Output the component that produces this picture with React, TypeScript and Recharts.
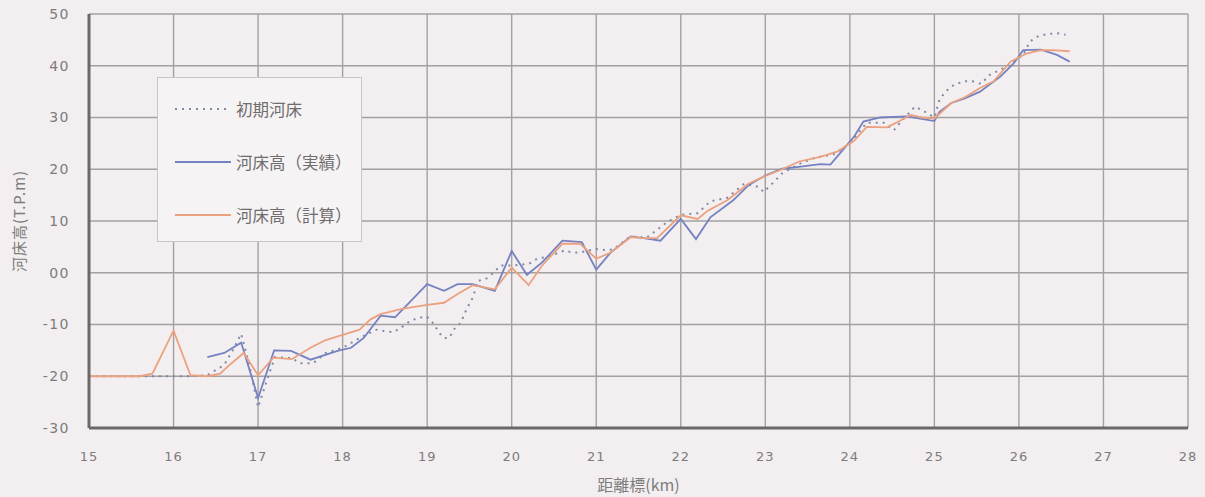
import React from "react";
import {
  LineChart,
  Line,
  XAxis,
  YAxis,
  CartesianGrid,
  Legend,
} from "recharts";

// ---- data ----
const xTicks = [15, 16, 17, 18, 19, 20, 21, 22, 23, 24, 25, 26, 27, 28];
const yTicks = [-30, -20, -10, 0, 10, 20, 30, 40, 50];

const seriesNames = ["初期河床", "河床高（実績）", "河床高（計算）"];

// 初期河床 (initial bed)
const initKm = [
  15.0, 15.4, 15.8, 16.2, 16.4, 16.6, 16.7, 16.8, 16.9, 17.0,
  17.1, 17.2, 17.4, 17.5, 17.65, 17.8, 18.0, 18.2, 18.4, 18.5,
  18.6, 18.7, 18.8, 18.9, 19.0, 19.08, 19.14, 19.2, 19.26, 19.32,
  19.4, 19.44, 19.48, 19.54, 19.6, 19.72, 19.87, 20.0, 20.2, 20.3,
  20.45, 20.62, 20.72, 20.8, 21.0, 21.1, 21.2, 21.4, 21.6, 21.76,
  21.84, 22.0, 22.2, 22.35, 22.55, 22.75, 22.92, 22.98, 23.08, 23.2,
  23.4, 23.6, 23.8, 24.0, 24.2, 24.4, 24.52, 24.62, 24.77, 24.9,
  25.0, 25.06, 25.13, 25.23, 25.35, 25.45, 25.55, 25.66, 25.78, 25.94,
  26.05, 26.13, 26.23, 26.33, 26.45, 26.55,
];
const initVal = [
  -20, -20, -20, -20, -19.8, -17.8, -15, -11.8, -18, -26,
  -21, -16.3, -16.5, -17.5, -17.5, -15.5, -14.5, -12.6, -11, -11.3,
  -11.5, -10.5, -9.3, -8.7, -8.5, -9.9, -11.6, -12.6, -12.6, -10.9,
  -9.6, -8, -6.6, -4.8, -1.6, -1.0, 1.4, 1.4, 1.7, 2.7,
  3.2, 4.3, 3.9, 3.9, 4.6, 4.4, 4.5, 7.0, 6.8, 8.8,
  9.8, 11.2, 11.5, 13.8, 14.5, 17.2, 16.6, 15.6, 17.2, 19.2,
  21.0, 22.3, 22.8, 25.0, 29.0, 29.0, 27.5, 29.5, 32.1, 31.0,
  30.0, 33.4, 35.0, 36.3, 37.0, 37.0, 36.5, 38.3, 39.2, 40.8,
  42.1, 44.7, 45.7, 46.1, 46.3, 46.0,
];

// 河床高（実績） (observed)
const actualKm = [
  16.4, 16.6, 16.8, 17.0, 17.19, 17.39, 17.62, 17.94, 18.1, 18.25,
  18.45, 18.62, 18.8, 19.0, 19.2, 19.36, 19.54, 19.8, 20.0, 20.18,
  20.36, 20.6, 20.83, 21.0, 21.17, 21.41, 21.56, 21.76, 22.0, 22.18,
  22.35, 22.62, 22.8, 23.0, 23.2, 23.42, 23.65, 23.77, 23.9, 24.05,
  24.16, 24.36, 24.67, 24.83, 25.0, 25.06, 25.2, 25.36, 25.54, 25.78,
  25.94, 26.05, 26.26, 26.45, 26.6,
];
const actualVal = [
  -16.3, -15.5, -13.5, -24.2, -15.0, -15.1, -16.8, -15.1, -14.5, -12.6,
  -8.3, -8.6, -5.6, -2.2, -3.5, -2.2, -2.2, -3.5, 4.2, -0.4,
  2.0, 6.2, 5.9, 0.6, 3.9, 7.0, 6.7, 6.2, 10.4, 6.5,
  10.7, 14.0, 16.9, 18.8, 20.1, 20.5, 21.0, 20.9, 23.4, 26.3,
  29.2, 30.0, 30.2, 29.8, 29.3, 31.1, 32.8, 33.7, 35.0, 37.9,
  40.5, 43.0, 43.1, 42.1, 40.8,
];

// 河床高（計算） (computed)
const calcKm = [
  15.0, 15.2, 15.4, 15.6, 15.75, 16.0, 16.2, 16.4, 16.55, 16.65,
  16.83, 17.0, 17.18, 17.4, 17.62, 17.8, 18.0, 18.2, 18.33, 18.45,
  18.7, 19.0, 19.2, 19.36, 19.54, 19.8, 20.0, 20.2, 20.36, 20.6,
  20.81, 21.0, 21.17, 21.41, 21.56, 21.72, 22.0, 22.2, 22.32, 22.55,
  22.8, 23.0, 23.2, 23.4, 23.65, 23.85, 24.05, 24.2, 24.44, 24.55,
  24.72, 24.85, 25.0, 25.2, 25.36, 25.54, 25.7, 25.9, 26.08, 26.26,
  26.4, 26.6,
];
const calcVal = [
  -20, -20, -20, -20, -19.5, -11.2, -19.8, -20, -19.5, -18,
  -15.5, -19.8, -16.4, -16.7, -14.5, -13, -12, -11, -9, -8,
  -7, -6.2, -5.8, -4.1, -2.4, -3.2, 1.0, -2.4, 1.4, 5.6,
  5.6, 2.7, 3.9, 6.9, 6.7, 6.7, 11.1, 10.4, 12.0, 14.0,
  17.2, 18.7, 20.0, 21.5, 22.4, 23.4, 25.5, 28.2, 28.1, 29.0,
  30.5, 30.0, 29.8, 32.8, 33.9, 35.7, 37.0, 40.8, 42.3, 43.0,
  43.0, 42.8,
];

const toRows = (km: number[], val: number[]) =>
  km.map((k, i) => ({ km: k, v: val[i] }));

const initRows = toRows(initKm, initVal);
const actualRows = toRows(actualKm, actualVal);
const calcRows = toRows(calcKm, calcVal);

// ---- styles ----
const FONT = '"Noto Sans CJK JP", "Noto Sans", sans-serif';
const NUMFONT = '"DejaVu Sans", sans-serif';
const BG = "#f3eff0";
const TEXT = "#7d7b7c";
const GRID = "#a3a0a2";
const AXIS = "#6a6869";
const C_INIT = "#7f8aa6";
const C_ACT = "#7482c2";
const C_CALC = "#eba17f";

const LegendBox = (props: any) => {
  const payload = props.payload || [];
  return (
    <div
      style={{
        width: 205,
        height: 165,
        boxSizing: "border-box",
        border: "1.5px solid #c9c5c7",
        background: "#f6f3f4",
        paddingTop: 4,
        fontFamily: FONT,
        color: "#6e6c6d",
        fontSize: 16.5,
      }}
    >
      {payload.map((p: any, i: number) => (
        <div
          key={i}
          style={{ height: 53, display: "flex", alignItems: "center" }}
        >
          <svg width={78} height={10} style={{ flex: "none" }}>
            <line
              x1={17}
              x2={73}
              y1={5}
              y2={5}
              stroke={p.color}
              strokeWidth={2}
              strokeDasharray={i === 0 ? "2 5" : undefined}
            />
          </svg>
          <span style={{ whiteSpace: "nowrap" }}>{p.value}</span>
        </div>
      ))}
    </div>
  );
};

const YLabel = (props: any) => {
  const vb = props.viewBox || { x: 0, y: 0, width: 0, height: 0 };
  const cx = vb.x + 18;
  const cy = vb.y + vb.height / 2;
  return (
    <text
      x={cx}
      y={cy}
      transform={`rotate(-90, ${cx}, ${cy})`}
      textAnchor="middle"
      dominantBaseline="central"
      fill={TEXT}
      fontSize={15}
      letterSpacing={1}
      fontFamily={FONT}
    >
      河床高(T.P.m)
    </text>
  );
};

export default function App() {
  return (
    <div
      style={{
        position: "absolute",
        left: 0,
        top: 0,
        width: 1205,
        height: 497,
        background: BG,
      }}
    >
      <LineChart
        width={1205}
        height={497}
        margin={{ top: 14, right: 17, bottom: 0, left: 0 }}
        style={{ fontFamily: FONT }}
      >
        <CartesianGrid stroke={GRID} strokeWidth={1.4} />
        <XAxis
          type="number"
          dataKey="km"
          domain={[15, 28]}
          ticks={xTicks}
          allowDataOverflow
          height={69}
          tickLine={false}
          tickSize={6}
          tickMargin={18}
          axisLine={{ stroke: AXIS, strokeWidth: 3 }}
          tick={{ fill: TEXT, fontSize: 13, fontFamily: NUMFONT, letterSpacing: 1 }}
          label={{
            value: "距離標(km)",
            position: "insideBottom",
            offset: 6,
            fill: TEXT,
            fontSize: 16,
            fontFamily: FONT,
          }}
        />
        <YAxis
          type="number"
          domain={[-30, 50]}
          ticks={yTicks}
          allowDataOverflow
          width={89}
          tickLine={false}
          tickSize={6}
          tickMargin={13}
          axisLine={{ stroke: AXIS, strokeWidth: 3 }}
          tick={{ fill: TEXT, fontSize: 14, fontFamily: NUMFONT, letterSpacing: 1.5 }}
          tickFormatter={(v: number) => (v === 0 ? "00" : String(v))}
          label={<YLabel />}
        />
        <Legend
          layout="vertical"
          align="center"
          verticalAlign="middle"
          content={<LegendBox />}
          wrapperStyle={{ left: 157, top: 77, width: 205, height: 165 }}
        />
        <Line
          data={initRows}
          dataKey="v"
          name={seriesNames[0]}
          type="linear"
          stroke={C_INIT}
          strokeWidth={2}
          strokeDasharray="2 5"
          dot={false}
          isAnimationActive={false}
        />
        <Line
          data={actualRows}
          dataKey="v"
          name={seriesNames[1]}
          type="linear"
          stroke={C_ACT}
          strokeWidth={1.8}
          dot={false}
          isAnimationActive={false}
        />
        <Line
          data={calcRows}
          dataKey="v"
          name={seriesNames[2]}
          type="linear"
          stroke={C_CALC}
          strokeWidth={1.8}
          dot={false}
          isAnimationActive={false}
        />
      </LineChart>
    </div>
  );
}
